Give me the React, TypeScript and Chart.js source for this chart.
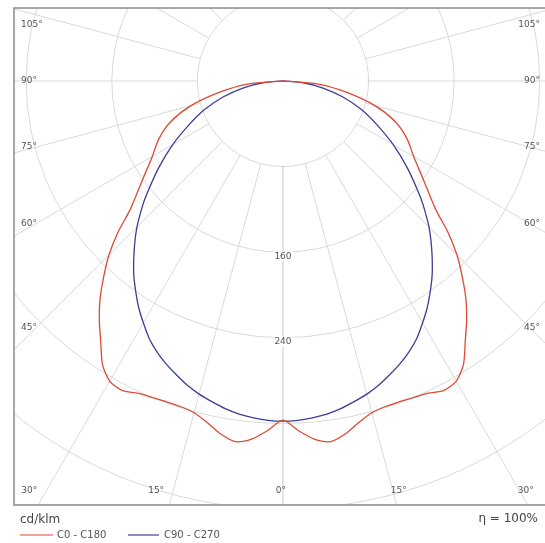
import React, { useEffect, useRef } from "react";
import { Chart, registerables } from "chart.js";

Chart.register(...registerables);

// Gamma angles (degrees from nadir) and intensities (cd/klm)
const GAMMA = [0, 2.5, 5, 7.5, 10, 12.5, 15, 17.5, 20, 22.5, 25, 27.5, 30, 32.5, 35, 37.5, 40, 42.5, 45, 47.5, 50, 55, 60, 65, 70, 75, 80, 85, 90];
const C0_C180 = [317, 327, 336, 340, 335, 327, 321, 319, 319, 320, 322, 326, 324, 314, 297, 282, 266, 248, 230, 209, 186, 160, 141, 128, 112, 89, 60, 33, 0];
const C90_C270 = [318, 317.5, 316, 314, 311, 307, 303, 298, 292, 286, 279, 271, 261, 251, 240, 229, 217, 205, 193, 180, 167, 142, 119, 97, 78, 58, 38, 19, 0];

const CIRCLE_VALUES = [80, 160, 240, 320, 400];
const CIRCLE_LABELS = [160, 240];
const RADIAL_ANGLES = [0, 15, 30, 45, 60, 75, 90, 105, 120, 135, 150, 165, 180];
const BOTTOM_ANGLE_LABELS = [0, 15, 30];
const SIDE_ANGLE_LABELS = [45, 60, 75, 90, 105];
const SERIES_NAMES = ["C0 - C180", "C90 - C270"];
const UNIT_LABEL = "cd/klm";
const EFFICIENCY_LABEL = "\u03b7 = 100%";

const RED = "#de4a33";
const BLUE = "#3d3d96";
const GRID = "#d9d9d9";
const TEXT = "#555555";
const FONT = '"DejaVu Sans", Verdana, sans-serif';

function polarPoints(vals: number[]) {
  const pts: { x: number; y: number }[] = [];
  for (let i = GAMMA.length - 1; i >= 0; i--) {
    const t = (GAMMA[i] * Math.PI) / 180;
    pts.push({ x: -vals[i] * Math.sin(t), y: -vals[i] * Math.cos(t) });
  }
  for (let i = 1; i < GAMMA.length; i++) {
    const t = (GAMMA[i] * Math.PI) / 180;
    pts.push({ x: vals[i] * Math.sin(t), y: -vals[i] * Math.cos(t) });
  }
  return pts;
}

const polarPlugin = {
  id: "polarGrid",
  beforeDatasetsDraw(chart: any) {
    const { ctx, chartArea: a, scales } = chart;
    const sx = scales.x;
    const sy = scales.y;
    const cx = sx.getPixelForValue(0);
    const cy = sy.getPixelForValue(0);
    const k = sx.getPixelForValue(1) - cx;
    ctx.save();
    ctx.beginPath();
    ctx.rect(a.left, a.top, a.right - a.left + 20, a.bottom - a.top);
    ctx.clip();
    ctx.strokeStyle = GRID;
    ctx.lineWidth = 1;
    CIRCLE_VALUES.forEach((v) => {
      ctx.beginPath();
      ctx.arc(cx, cy, v * k, 0, Math.PI * 2);
      ctx.stroke();
    });
    const r0 = CIRCLE_VALUES[0] * k;
    const r1 = 2000;
    RADIAL_ANGLES.forEach((ang) => {
      const t = (ang * Math.PI) / 180;
      [-1, 1].forEach((s) => {
        const dx = s * Math.sin(t);
        const dy = Math.cos(t);
        ctx.beginPath();
        ctx.moveTo(cx + dx * r0, cy + dy * r0);
        ctx.lineTo(cx + dx * r1, cy + dy * r1);
        ctx.stroke();
      });
    });
    ctx.restore();
  },
  afterDatasetsDraw(chart: any) {
    const { ctx, chartArea: a, scales } = chart;
    const sx = scales.x;
    const sy = scales.y;
    const cx = sx.getPixelForValue(0);
    const cy = sy.getPixelForValue(0);
    const k = sx.getPixelForValue(1) - cx;
    ctx.save();
    ctx.textBaseline = "middle";
    ctx.font = `9px ${FONT}`;

    // circle value labels on the nadir axis
    CIRCLE_LABELS.forEach((v) => {
      const y = cy + v * k + 4;
      const txt = String(v);
      const w = ctx.measureText(txt).width;
      ctx.fillStyle = "#ffffff";
      ctx.fillRect(cx - w / 2 - 1, y - 5, w + 2, 10);
      ctx.fillStyle = TEXT;
      ctx.textAlign = "center";
      ctx.fillText(txt, cx, y);
    });

    // border (left, top, bottom)
    ctx.strokeStyle = "#8a8a8a";
    ctx.lineWidth = 1.5;
    ctx.beginPath();
    ctx.moveTo(a.right + 5, a.top);
    ctx.lineTo(a.left, a.top);
    ctx.lineTo(a.left, a.bottom);
    ctx.lineTo(a.right + 5, a.bottom);
    ctx.stroke();

    // angle labels along the bottom
    const by = a.bottom - 14;
    ctx.fillStyle = TEXT;
    BOTTOM_ANGLE_LABELS.forEach((ang) => {
      const t = (ang * Math.PI) / 180;
      const off = (by - cy) * Math.tan(t);
      const txt = `${ang}\u00b0`;
      if (ang === 0) {
        ctx.textAlign = "center";
        ctx.fillText(txt, cx - 2, by);
      } else {
        ctx.textAlign = "right";
        ctx.fillText(txt, cx - off - 9, by);
        ctx.textAlign = "left";
        ctx.fillText(txt, cx + off - 2, by);
      }
    });

    // angle labels along the sides
    const d = 247;
    SIDE_ANGLE_LABELS.forEach((ang) => {
      const t = (ang * Math.PI) / 180;
      let y = cy + (d * Math.cos(t)) / Math.sin(t);
      y = Math.max(y, a.top + 17);
      const txt = `${ang}\u00b0`;
      ctx.textAlign = "left";
      ctx.fillText(txt, a.left + 7, y);
      ctx.textAlign = "right";
      ctx.fillText(txt, 540, y);
    });

    // unit & efficiency
    ctx.fillStyle = "#444444";
    ctx.font = `12px ${FONT}`;
    ctx.textAlign = "left";
    ctx.fillText(UNIT_LABEL, a.left + 6, a.bottom + 15);
    ctx.textAlign = "right";
    ctx.fillText(EFFICIENCY_LABEL, 538, a.bottom + 14);

    // legend
    const ly = a.bottom + 30;
    ctx.font = `10px ${FONT}`;
    ctx.textAlign = "left";
    ctx.lineWidth = 1.2;
    ctx.strokeStyle = RED;
    ctx.beginPath();
    ctx.moveTo(a.left + 6, ly);
    ctx.lineTo(a.left + 39, ly);
    ctx.stroke();
    ctx.fillStyle = TEXT;
    ctx.fillText(SERIES_NAMES[0], a.left + 43, ly);
    ctx.strokeStyle = BLUE;
    ctx.beginPath();
    ctx.moveTo(a.left + 114, ly);
    ctx.lineTo(a.left + 145, ly);
    ctx.stroke();
    ctx.fillText(SERIES_NAMES[1], a.left + 150, ly);
    ctx.restore();
  },
};

export default function App() {
  const canvasRef = useRef<HTMLCanvasElement | null>(null);

  useEffect(() => {
    if (!canvasRef.current) return;
    const chart = new Chart(canvasRef.current, {
      type: "scatter",
      data: {
        datasets: [
          {
            label: SERIES_NAMES[0],
            data: polarPoints(C0_C180),
            showLine: true,
            borderColor: RED,
            borderWidth: 1.3,
            pointRadius: 0,
            tension: 0.25,
          },
          {
            label: SERIES_NAMES[1],
            data: polarPoints(C90_C270),
            showLine: true,
            borderColor: BLUE,
            borderWidth: 1.3,
            pointRadius: 0,
            tension: 0.25,
          },
        ],
      },
      options: {
        animation: false,
        responsive: true,
        maintainAspectRatio: false,
        layout: { padding: { left: 14, top: 8, right: 0, bottom: 38 } },
        plugins: { legend: { display: false }, tooltip: { enabled: false } },
        scales: {
          x: { type: "linear", min: -251.4, max: 244.9, display: false },
          y: { type: "linear", min: -396.3, max: 68.2, display: false },
        },
      },
      plugins: [polarPlugin],
    } as any);
    return () => chart.destroy();
  }, []);

  return (
    <div style={{ position: "absolute", left: 0, top: 0, width: 545, height: 543, background: "#fff" }}>
      <canvas ref={canvasRef} />
    </div>
  );
}
